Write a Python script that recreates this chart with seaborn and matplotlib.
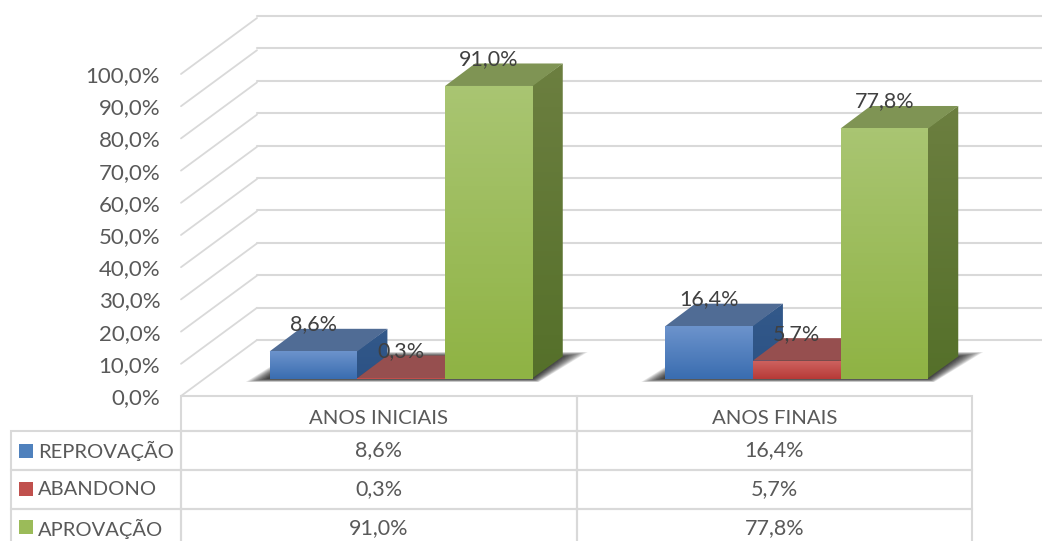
"""3D-looking column chart with data table (school pass rates)."""

import matplotlib
matplotlib.use("Agg")
import matplotlib.pyplot as plt
import numpy as np
import pandas as pd
import seaborn as sns
from matplotlib.colors import LinearSegmentedColormap
from matplotlib.patches import Polygon, Rectangle
from matplotlib.table import Table
from matplotlib.ticker import FuncFormatter

categories = ["ANOS INICIAIS", "ANOS FINAIS"]
series = ["REPROVAÇÃO", "ABANDONO", "APROVAÇÃO"]
reprovacao = [8.6, 16.4]
abandono = [0.3, 5.7]
aprovacao = [91.0, 77.8]
y_ticks = [0, 10, 20, 30, 40, 50, 60, 70, 80, 90, 100]

W, H = 1042, 541
# front plane of the chart, in pixels
LEFT, RIGHT, Y0, Y100 = 181, 972, 396, 74
# colours per series: (front top, front bottom, top face, side top, side bottom)
FACES = {
    "REPROVAÇÃO": ("#6C93CC", "#3A6DB0", "#506C95", "#33598A", "#2C5285"),
    "ABANDONO": ("#CE6461", "#B73A37", "#964F4F", "#8A3F3D", "#7E2F2D"),
    "APROVAÇÃO": ("#A9C572", "#8FB344", "#7F9454", "#6C7F40", "#55702A"),
}
SWATCH = {"REPROVAÇÃO": "#4F81BD", "ABANDONO": "#C0504D", "APROVAÇÃO": "#9BBB59"}
GRID = "#D9D9D9"
TEXT = "#595959"

sns.set_theme(style="white")
plt.rcParams["font.family"] = ["Lato", "DejaVu Sans"]

df = pd.DataFrame(
    {
        "ano": categories * 3,
        "situacao": np.repeat(series, 2),
        "valor": reprovacao + abandono + aprovacao,
    }
)


def comma(value):
    return f"{value:.1f}%".replace(".", ",")


def pixel_axes(fig, x0, x1, y_bottom, y_top):
    return fig.add_axes(
        [x0 / W, 1 - y_bottom / H, (x1 - x0) / W, (y_bottom - y_top) / H]
    )


def gradient_face(ax, points, top, bottom, zorder):
    """Fill a polygon with a vertical gradient."""
    points = np.asarray(points)
    cmap = LinearSegmentedColormap.from_list("face", [top, bottom])
    extent = [points[:, 0].min(), points[:, 0].max(), points[:, 1].min(), points[:, 1].max()]
    im = ax.imshow(
        np.linspace(0, 1, 64).reshape(-1, 1),
        cmap=cmap,
        extent=extent,
        origin="upper",
        aspect="auto",
        zorder=zorder,
    )
    im.set_clip_path(Polygon(points, transform=ax.transData))


fig = plt.figure(figsize=(W / 100, H / 100), dpi=100)
fig.patch.set_facecolor("white")

# back wall with its gridlines
BACK_DX, BACK_DY = 76, 56
ax_back = pixel_axes(fig, LEFT + BACK_DX, W, Y0 - BACK_DY, Y100 - BACK_DY - 2)
ax_back.set_ylim(0, 100)
ax_back.set_xticks([])
ax_back.set_yticks(y_ticks)
ax_back.set_yticklabels([])
ax_back.tick_params(length=0)
ax_back.grid(axis="y", color=GRID, lw=1.5)
sns.despine(ax=ax_back, left=True, bottom=True)
ax_back.patch.set_alpha(0)
for line in ax_back.get_ygridlines():
    line.set_clip_on(False)

# front plane: value axis, side wall and data table
ax = pixel_axes(fig, LEFT, RIGHT, Y0, Y100)
ax.patch.set_alpha(0)
ax.set_xlim(-0.5, 1.5)
ax.set_ylim(0, 100)
ax.set_xticks([])
ax.set_yticks(y_ticks)
ax.yaxis.set_major_formatter(FuncFormatter(lambda v, _: comma(v)))
ax.tick_params(axis="y", length=0, pad=15, labelsize=16, labelcolor=TEXT)
sns.despine(ax=ax, left=True, bottom=True)

sx = 2 / (RIGHT - LEFT)  # data units per pixel
sy = 100 / (Y0 - Y100)
for tick in y_ticks:
    ax.plot(
        [-0.5, -0.5 + BACK_DX * sx],
        [tick, tick + BACK_DY * sy],
        color=GRID,
        lw=1.3,
        clip_on=False,
    )

# data table, label column included, fitted to the bbox
TABLE_LEFT, TABLE_BOTTOM = 11, 548
HEADER_H, ROW_H = 35, 39
label_w = (LEFT - TABLE_LEFT) / (RIGHT - LEFT)
table = Table(
    ax,
    bbox=[
        -label_w,
        (Y0 - TABLE_BOTTOM) / (Y0 - Y100),
        1 + label_w,
        (TABLE_BOTTOM - Y0) / (Y0 - Y100),
    ],
)
table.auto_set_font_size(False)
corner = table.add_cell(0, 0, label_w, HEADER_H, facecolor="none")
for c, category in enumerate(categories, start=1):
    table.add_cell(0, c, 0.5, HEADER_H, facecolor="none")
    # the header text sits below the centre of its row
    ax.text(c - 1, (Y0 - 418) * sy, category, ha="center", va="center", fontsize=14.7, color=TEXT)
for r, (name, values) in enumerate(zip(series, (reprovacao, abandono, aprovacao)), start=1):
    cell = table.add_cell(r, 0, label_w, ROW_H, text=name, loc="left", facecolor="none")
    cell.PAD = 27 / (LEFT - TABLE_LEFT)
    for c, value in enumerate(values, start=1):
        table.add_cell(r, c, 0.5, ROW_H, text=comma(value), loc="center", facecolor="none")
for (row, col), cell in table.get_celld().items():
    cell.set_edgecolor(GRID)
    cell.set_linewidth(1.5)
    cell.get_text().set_color(TEXT)
    cell.get_text().set_fontsize(14.5 if col == 0 else 15.5)
corner.visible_edges = "open"
ax.add_table(table)

for name, y_mid in zip(series, [451, 489, 527]):
    fig.add_artist(
        Rectangle(
            (19 / W, 1 - (y_mid + 7) / H),
            14 / W,
            14 / H,
            transform=fig.transFigure,
            color=SWATCH[name],
            lw=0,
        )
    )

# columns, moved into the middle of the chart floor
SHIFT_X, SHIFT_Y = 22.5, 17
ax_bars = pixel_axes(fig, LEFT + SHIFT_X, RIGHT + SHIFT_X, Y0 - SHIFT_Y, Y100 - SHIFT_Y)
sns.barplot(
    data=df,
    x="ano",
    y="valor",
    hue="situacao",
    order=categories,
    hue_order=series,
    palette={s: FACES[s][1] for s in series},
    width=0.665,
    gap=0,
    saturation=1,
    linewidth=0,
    edgecolor="none",
    legend=False,
    ax=ax_bars,
)
ax_bars.set_xlim(-0.5, 1.5)
ax_bars.set_ylim(0, 100)
ax_bars.patch.set_alpha(0)
ax_bars.axis("off")
ax_bars.set_autoscale_on(False)

bars = sorted(ax_bars.patches, key=lambda b: b.get_x())
names = [series[i % 3] for i in range(len(bars))]
DEPTH_X, DEPTH_Y = 30 * sx, 22.5 * sy

# soft shadow on the floor, one for each group
for first, last in zip(bars[0::3], bars[2::3]):
    x0, x1 = first.get_x(), last.get_x() + last.get_width()
    inner = np.array(
        [
            (x0 - 3 * sx, 0),
            (x1, 0),
            (x1 + DEPTH_X, DEPTH_Y),
            (x0 + DEPTH_X, DEPTH_Y),
        ]
    )
    outer = np.array(
        [
            (x0 - 24 * sx, -3 * sy),
            (x1 + 6 * sx, -3 * sy),
            (x1 + 55 * sx, 27 * sy),
            (x0 + 24 * sx, 27 * sy),
        ]
    )
    for t in np.linspace(0, 1, 14):
        ax_bars.add_patch(
            Polygon(inner + (outer - inner) * t, color="black", alpha=0.085, lw=0, zorder=1, clip_on=False)
        )

for i, (bar, name) in enumerate(zip(bars, names)):
    front_top, front_bottom, top_face, side_top, side_bottom = FACES[name]
    x0, x1 = bar.get_x(), bar.get_x() + bar.get_width()
    h = bar.get_height()
    z = 10 + i * 5
    overlap = 1.5 * sx  # keeps a white seam from showing between the faces
    gradient_face(
        ax_bars,
        [(x1 - overlap, 0), (x1 + DEPTH_X, DEPTH_Y), (x1 + DEPTH_X, h + DEPTH_Y), (x1 - overlap, h)],
        side_top,
        side_bottom,
        z,
    )
    ax_bars.add_patch(
        Polygon(
            [(x0, h), (x1, h), (x1 + DEPTH_X, h + DEPTH_Y), (x0 + DEPTH_X, h + DEPTH_Y)],
            color=top_face,
            lw=0,
            zorder=z + 1,
        )
    )
    bar.set_zorder(z + 2)
    gradient_face(ax_bars, [(x0, 0), (x1, 0), (x1, h), (x0, h)], front_top, front_bottom, z + 3)
    ax_bars.annotate(
        comma(h),
        (bar.get_x() + bar.get_width() / 2, h),
        xytext=(0, 19.4),
        textcoords="offset points",
        ha="center",
        va="center",
        fontsize=15.5,
        color="#404040",
        zorder=200,
        annotation_clip=False,
    )

ax_bars.set_xlim(-0.5, 1.5)
ax_bars.set_ylim(0, 100)

fig.savefig("out.png", dpi=100)
